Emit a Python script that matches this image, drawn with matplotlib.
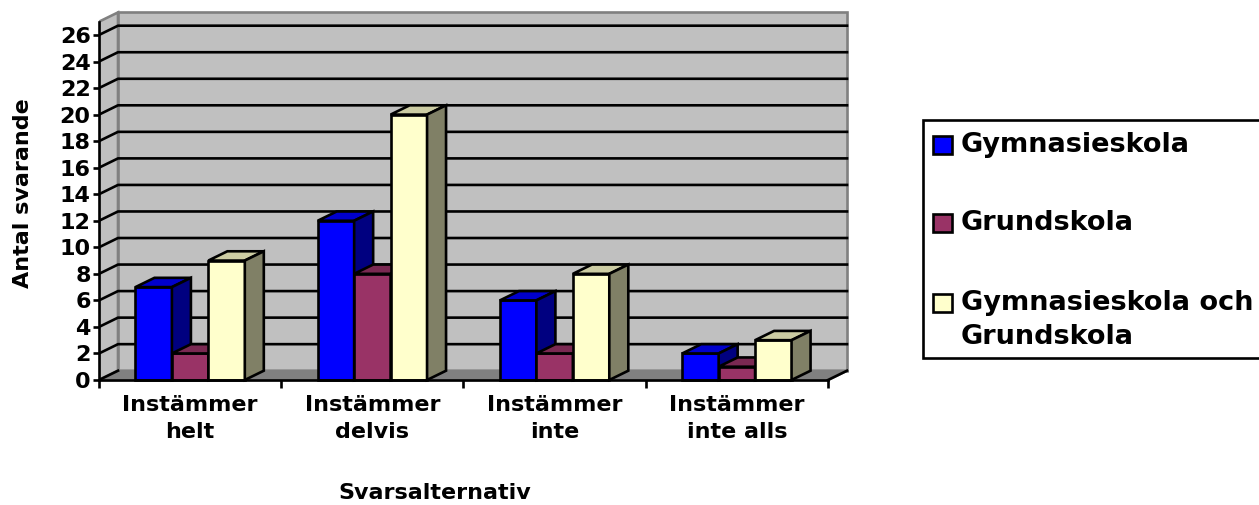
import numpy as np
import matplotlib
matplotlib.use('Agg')
import matplotlib.pyplot as plt
from matplotlib.patches import Polygon, Rectangle

categories = ['Instämmer\nhelt', 'Instämmer\ndelvis', 'Instämmer\ninte', 'Instämmer\ninte alls']
series = ['Gymnasieskola', 'Grundskola', 'Gymnasieskola och\nGrundskola']
gymnasieskola = [7, 12, 6, 2]
grundskola = [2, 8, 2, 1]
bada = [9, 20, 8, 3]
yticks = list(range(0, 27, 2))

front_colors = ['#0000FF', '#993366', '#FFFFCC']
top_colors = ['#0000CC', '#7A2952', '#CCCCA3']
side_colors = ['#000080', '#4D1A33', '#808066']

W, H = 1259, 505
fig = plt.figure(figsize=(W / 100, H / 100), dpi=100)

# pixel layout of the plot (front plane: x 99..828, y 0 at 380, 13.27 px per unit)
ux, uy = 182.25, 13.27
left_px, right_px, top_px, bot_px = 99, 852, 8, 392
ax = fig.add_axes([left_px / W, (H - bot_px) / H, (right_px - left_px) / W, (bot_px - top_px) / H])
ax.set_xlim(0, (right_px - left_px) / ux)
ax.set_ylim(-(bot_px - 380) / uy, (380 - top_px) / uy)

n = len(categories)
ymax = 27
dx, dy = 19 / ux, 0.7
lw = 1.9

# walls and floor
ax.add_patch(Polygon([(0, 0), (0, ymax), (dx, ymax + dy), (dx, dy)], closed=True,
                     facecolor='#C0C0C0', edgecolor='#808080', lw=lw, zorder=0))
ax.add_patch(Rectangle((dx, dy), n, ymax, facecolor='#C0C0C0', edgecolor='#808080', lw=lw, zorder=0))
ax.add_patch(Polygon([(0, 0), (n, 0), (n + dx, dy), (dx, dy)], closed=True,
                     facecolor='#808080', edgecolor='#808080', lw=lw, zorder=0.5))
ax.plot([n, n + dx], [0, dy], color='black', lw=lw, zorder=0.6)

for v in yticks:
    if v == 0:
        ax.plot([0, dx], [0, dy], color='black', lw=lw, zorder=1)
    else:
        ax.plot([0, dx, n + dx], [v, v + dy, v + dy], color='black', lw=lw, zorder=1)

# 3d bars
data = [gymnasieskola, grundskola, bada]
bw = 0.2
z = 2
for i in range(n):
    for j, vals in enumerate(data):
        x0 = i + 0.2 + j * bw
        v = vals[i]
        ax.bar(x0, v, width=bw, align='edge', color=front_colors[j], edgecolor='black', lw=lw, zorder=z)
        ax.add_patch(Polygon([(x0, v), (x0 + bw, v), (x0 + bw + dx, v + dy), (x0 + dx, v + dy)],
                             closed=True, facecolor=top_colors[j], edgecolor='black', lw=lw, zorder=z))
        ax.add_patch(Polygon([(x0 + bw, 0), (x0 + bw + dx, dy), (x0 + bw + dx, v + dy), (x0 + bw, v)],
                             closed=True, facecolor=side_colors[j], edgecolor='black', lw=lw,
                             joinstyle='miter', zorder=z))
        z += 0.1

# axes
for s in ['top', 'right']:
    ax.spines[s].set_visible(False)
ax.spines['left'].set_bounds(0, ymax)
ax.spines['left'].set_linewidth(lw)
ax.spines['left'].set_zorder(5)
ax.spines['bottom'].set_position(('data', 0))
ax.spines['bottom'].set_bounds(0, n)
ax.spines['bottom'].set_linewidth(lw)
ax.spines['bottom'].set_zorder(5)

ax.set_yticks(yticks)
ax.set_yticklabels([str(v) for v in yticks], fontsize=16, fontweight='bold')
ax.tick_params(axis='y', length=4.5, width=lw, pad=1.5)

ax.set_xticks(range(n + 1))
ax.set_xticklabels([])
ax.tick_params(axis='x', which='major', length=6, width=lw)
ax.set_xticks([i + 0.5 for i in range(n)], minor=True)
ax.set_xticklabels(categories, minor=True, fontsize=16, fontweight='bold', linespacing=1.4)
ax.tick_params(axis='x', which='minor', length=0, pad=11)

fig.text(435 / W, 1 - 493 / H, 'Svarsalternativ', fontsize=16, fontweight='bold',
         ha='center', va='center')
fig.text(23 / W, 1 - 193 / H, 'Antal svarande', fontsize=16, fontweight='bold',
         ha='center', va='center', rotation=90)

# legend
def fx(px):
    return px / W

def fy(py):
    return 1 - py / H

fig.add_artist(Rectangle((fx(923), fy(358)), fx(1265) - fx(923), fy(120) - fy(358),
                         transform=fig.transFigure, facecolor='white', edgecolor='black', lw=lw))
entry_y = [145, 223, 303]
for j, name in enumerate(series):
    yc = entry_y[j]
    fig.add_artist(Rectangle((fx(933), fy(yc + 9)), fx(952) - fx(933), fy(yc - 9) - fy(yc + 9),
                             transform=fig.transFigure, facecolor=front_colors[j],
                             edgecolor='black', lw=lw))
    lines = name.split('\n')
    for k, line in enumerate(lines):
        fig.text(fx(961), fy(yc + k * 34), line, fontsize=19.5, fontweight='bold',
                 ha='left', va='center')

fig.savefig('out.png', dpi=100)
